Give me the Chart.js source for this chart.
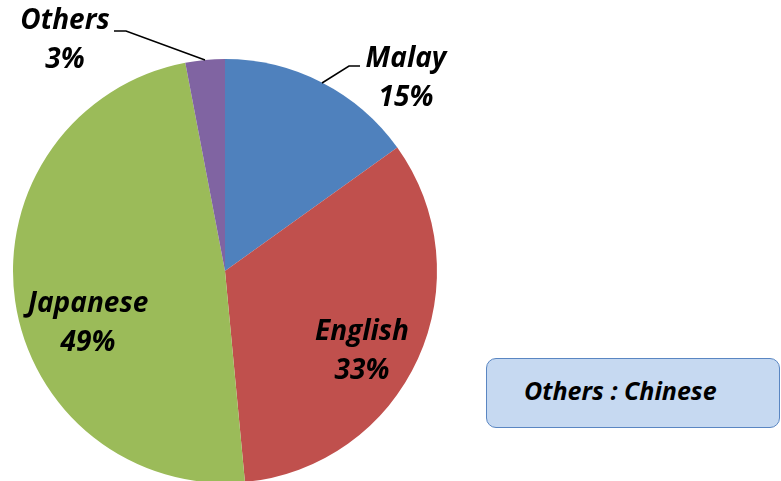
<!DOCTYPE html>
<html>
<head>
<meta charset="utf-8">
<script src="https://cdn.jsdelivr.net/npm/chart.js@4"></script>
<style>
  html, body { margin: 0; padding: 0; width: 781px; height: 481px; overflow: hidden; background: #fff; }
  #wrap { position: absolute; left: 0; top: 0; width: 781px; height: 490px; }
  #note {
    position: absolute; left: 486px; top: 358px; width: 292px; height: 68px;
    background: #C6D9F1; border: 1.5px solid #5A86C2; border-radius: 10px;
    font: italic bold 25px "Open Sans", Lato, sans-serif; color: #000;
    box-sizing: content-box;
  }
  #note span { position: absolute; left: 37px; top: 14px; white-space: nowrap; }
</style>
</head>
<body>
<div id="wrap"><canvas id="c" width="781" height="490"></canvas></div>
<div id="note"><span>Others : Chinese</span></div>
<script>
const categories = ["Malay", "English", "Japanese", "Others"];
const shares = [15.1, 33.4, 48.5, 3.0];
const percentLabels = ["15%", "33%", "49%", "3%"];
const colors = ["#4F81BD", "#C0504D", "#9BBB59", "#8064A2"];

// label placement (first-line baseline) relative to pie centre
const labelOffsets = [
  { dx: 181, dy: -204, lead: [[97, -188], [124, -205], [135, -205]] },
  { dx: 137, dy: 69 },
  { dx: -137, dy: 41 },
  { dx: -160, dy: -242, lead: [[-20, -211], [-99, -240], [-111, -240]] }
];

const labelPlugin = {
  id: 'pieLabels',
  afterDatasetsDraw(chart) {
    const ctx = chart.ctx;
    const meta = chart.getDatasetMeta(0);
    ctx.save();
    ctx.font = 'italic bold 28px "Open Sans", Lato, sans-serif';
    ctx.fillStyle = '#000';
    ctx.textAlign = 'center';
    ctx.textBaseline = 'alphabetic';
    meta.data.forEach((arc, i) => {
      const cx = arc.x, cy = arc.y;
      const o = labelOffsets[i];
      if (o.lead) {
        ctx.beginPath();
        ctx.strokeStyle = '#000';
        ctx.lineWidth = 1.5;
        o.lead.forEach((p, k) => {
          if (k === 0) ctx.moveTo(cx + p[0], cy + p[1]);
          else ctx.lineTo(cx + p[0], cy + p[1]);
        });
        ctx.stroke();
      }
      ctx.fillText(categories[i], cx + o.dx, cy + o.dy);
      ctx.fillText(percentLabels[i], cx + o.dx, cy + o.dy + 39);
    });
    ctx.restore();
  }
};

new Chart(document.getElementById('c'), {
  type: 'pie',
  data: {
    labels: categories,
    datasets: [{
      data: shares,
      backgroundColor: colors,
      borderWidth: 0
    }]
  },
  options: {
    responsive: false,
    animation: false,
    layout: { padding: { left: 13, top: 59, right: 344, bottom: 7 } },
    plugins: {
      legend: { display: false },
      tooltip: { enabled: false }
    }
  },
  plugins: [labelPlugin]
});
</script>
</body>
</html>
